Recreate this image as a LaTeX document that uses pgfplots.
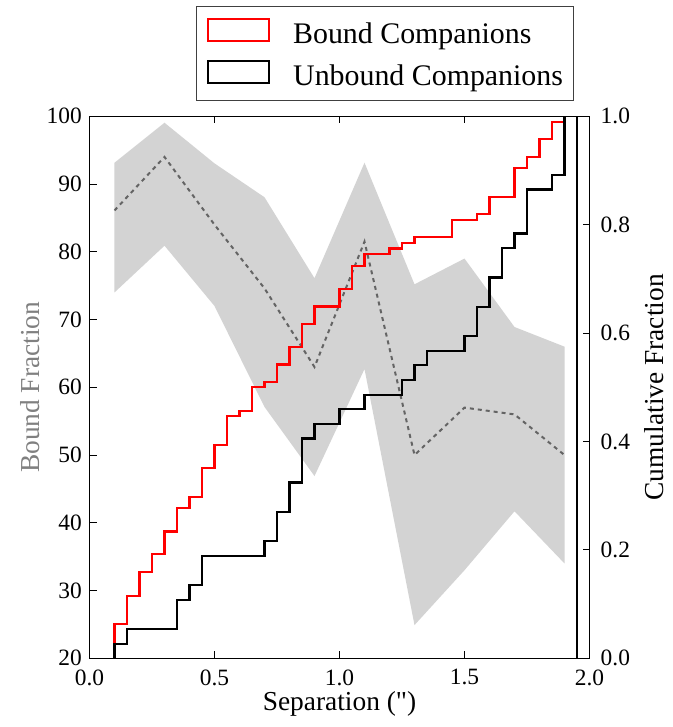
\documentclass[border=0pt]{standalone}
\usepackage{fontspec}
\setmainfont{Liberation Serif}[Ligatures=TeXOff]
\usepackage{pgfplots}
\pgfplotsset{compat=1.18}
\definecolor{bandgray}{HTML}{D3D3D3}
\definecolor{dashgray}{HTML}{646464}
\definecolor{labelgray}{HTML}{808080}
\newcommand{\labfont}{\fontsize{27.5}{32}\selectfont}
\newcommand{\legfont}{\fontsize{30}{34}\selectfont}
\begin{document}
\fontsize{23.5}{27}\selectfont
\begin{tikzpicture}
\pgfplotsset{
  common/.style={
    scale only axis, width=500bp, height=542bp, xmin=0, xmax=2,
    tick align=inside, major tick length=7bp,
    axis line style={line width=1bp},
    every tick/.style={line width=1bp, black},
    /pgf/number format/assume math mode=true,
  }
}
\begin{axis}[common, ymin=20, ymax=100, axis y line*=left,
  ytick={20,30,...,100},
  xtick={0,0.5,1,1.5,2},
  xticklabel style={/pgf/number format/.cd,fixed,fixed zerofill,precision=1,/tikz/.cd, inner sep=0pt, yshift=-11bp},
  yticklabel style={inner sep=0pt, xshift=-7.5bp},
  every axis y label/.style={at={(axis description cs:-0.1,0.5)}, rotate=90, anchor=base, color=labelgray, font=\labfont},
  every axis x label/.style={at={(axis description cs:0.5,-0.0955)}, anchor=base, font=\labfont},
  ylabel={Bound Fraction}, xlabel={Separation (")},
]
\addplot[fill=bandgray, draw=none] coordinates {
  (0.1,93.15) (0.3,99.05) (0.5,93.05) (0.7,88.05) (0.9,76.1) (1.1,93.15) (1.3,75.2) (1.5,79.0) (1.7,68.9) (1.9,66.0)
  (1.9,34.0) (1.7,41.7) (1.5,33.0) (1.3,24.9) (1.1,62.7) (0.9,46.9) (0.7,57.1) (0.5,72.0) (0.3,80.9) (0.1,74.0)
} -- cycle;
\addplot[dashgray, line width=2bp, dash pattern=on 4bp off 4bp, mark=none] coordinates {
  (0.1,86.1) (0.3,94.0) (0.5,84.0) (0.7,74.6) (0.9,63.0) (1.1,81.5) (1.3,50.0) (1.5,57.0) (1.7,56.0) (1.9,50.0)
};
\end{axis}
\begin{axis}[common, ymin=0, ymax=1, axis y line*=right, hide x axis,
  ytick={0,0.2,0.4,0.6,0.8,1.0},
  yticklabel style={/pgf/number format/.cd,fixed,fixed zerofill,precision=1,/tikz/.cd, inner sep=0pt, xshift=11bp},
  every axis y label/.style={at={(axis description cs:1.1476,0.5)}, rotate=90, anchor=base, font=\labfont},
  ylabel={Cumulative Fraction},
  legend cell align=left,
  legend image code/.code={\draw[#1, fill=none] (0bp,-6bp) rectangle (61bp,16bp);},
  legend style={at={(rel axis cs:0.969,1.0277)}, anchor=south east, draw=black!75, line width=1bp,
    inner xsep=10.5bp, inner ysep=11.5bp, row sep=13bp, font=\legfont,
    nodes={inner sep=0pt},
    /tikz/every odd column/.append style={column sep=23bp}},
]
\addplot[red, line width=2.2bp, const plot, mark=none, line join=miter] coordinates {
  (0.10,0) (0.10,0.063) (0.15,0.1155) (0.20,0.159) (0.25,0.192) (0.30,0.234) (0.35,0.277) (0.40,0.297)
  (0.45,0.351) (0.50,0.393) (0.55,0.447) (0.60,0.457) (0.65,0.501) (0.70,0.510) (0.75,0.542) (0.80,0.575)
  (0.85,0.617) (0.90,0.649) (1.00,0.681) (1.05,0.724) (1.10,0.746) (1.20,0.756) (1.25,0.766) (1.30,0.778)
  (1.45,0.809) (1.55,0.819) (1.60,0.851) (1.70,0.904) (1.75,0.925) (1.80,0.958) (1.85,0.989) (1.90,1.000)
  (1.95,0)
};
\addlegendentry{Bound Companions}
\addplot[black, line width=2.2bp, const plot, mark=none, line join=miter] coordinates {
  (0.10,0) (0.10,0.0270) (0.15,0.0541) (0.35,0.1081) (0.40,0.1351) (0.45,0.1892) (0.70,0.2162) (0.75,0.2703)
  (0.80,0.3243) (0.85,0.4054) (0.90,0.4324) (1.00,0.4595) (1.10,0.4865) (1.25,0.5135) (1.30,0.5405)
  (1.35,0.5676) (1.50,0.5946) (1.55,0.6486) (1.60,0.7027) (1.65,0.7568) (1.70,0.7838) (1.75,0.8649)
  (1.85,0.8919) (1.90,1.000) (1.95,0)
};
\addlegendentry{Unbound Companions}
\coordinate (ll) at (rel axis cs:0,0);
\end{axis}
\pgfresetboundingbox
\path[use as bounding box] ([xshift=-89.5bp,yshift=-68.7bp]ll) rectangle ++(673bp,727bp);
\end{tikzpicture}
\end{document}
